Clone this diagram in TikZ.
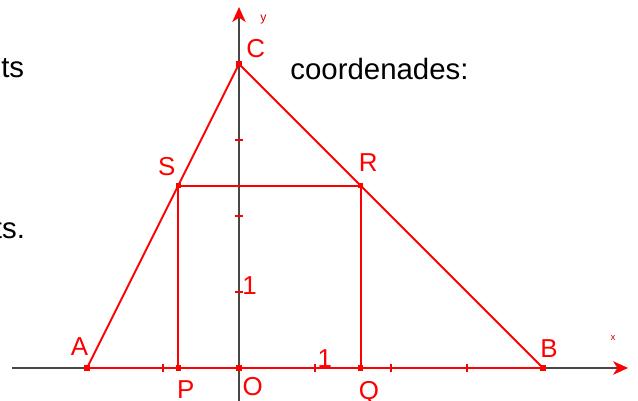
\documentclass[tikz,border=0pt]{standalone}
\usepackage{fontspec}
\setmainfont{Liberation Sans}
\usetikzlibrary{arrows.meta}

\begin{document}
\begin{tikzpicture}[
    font=\fontsize{9.7}{11}\selectfont,
    axisline/.style={draw=black!72, line width=0.75pt},
    redline/.style={draw=red, line width=0.7pt},
    axtick/.style={draw=red, line width=0.6pt},
    ptlabel/.style={text=red, inner sep=0pt},
    axlabel/.style={text=red!80!black, inner sep=0pt},
    bodytext/.style={text=black, inner sep=0pt, font=\fontsize{11}{13}\selectfont},
  ]
  % picture frame: 638 x 401 px, 1 unit = 76 px, origin at (239,368)
  \useasboundingbox (-3.145,-0.434) rectangle (5.25,4.842);

  % ------------------------------------------------------------------
  % clipped fragments of the surrounding text
  % ------------------------------------------------------------------
  \node[bodytext, anchor=base east] (txtA) at (-2.82,3.82) {ts};
  \node[bodytext, anchor=base east] (txtB) at (-2.81,1.71) {ts.};
  \node[bodytext, anchor=base west] (txtC) at (0.67,3.79) {coordenades:};

  % ------------------------------------------------------------------
  % axes with red tips, ticks every unit
  % ------------------------------------------------------------------
  \draw[axisline, -{Stealth[color=red, length=5.6pt, width=5pt, inset=1.6pt]}]
       (-2.99,0) -- (5.12,0);
  \draw[axisline, -{Stealth[color=red, length=5.6pt, width=5pt, inset=1.6pt]}]
       (0,-0.45) -- (0,4.75);
  \foreach \xx in {-1,1,2,3} {
    \draw[axtick] (\xx,-0.05) -- (\xx,0.05);
  }
  \foreach \yy in {1,2,3} {
    \draw[axtick] (-0.05,\yy) -- (0.05,\yy);
  }
  \node[axlabel, font=\fontsize{3.6}{4}\selectfont] (xlab) at (4.92,0.40) {x};
  \node[axlabel, font=\fontsize{4.6}{5}\selectfont] (ylab) at (0.32,4.58) {y};
  \node[ptlabel] (onex) at (1.13,0.13) {1};
  \node[ptlabel] (oney) at (0.14,1.08) {1};

  % ------------------------------------------------------------------
  % triangle ABC and inscribed square PQRS
  % ------------------------------------------------------------------
  \coordinate (O) at (0,0);
  \coordinate (A) at (-2,0);
  \coordinate (B) at (4,0);
  \coordinate (C) at (0,4);
  \coordinate (P) at (-0.8,0);
  \coordinate (Q) at (1.6,0);
  \coordinate (R) at (1.6,2.4);
  \coordinate (S) at (-0.8,2.4);

  \draw[redline] (A) -- (B);
  \draw[redline] (A) -- (C) -- (B);
  \draw[redline] (P) -- (S) -- (R) -- (Q);

  \foreach \p in {O,A,B,C,P,Q,R,S} {
    \fill[red] (\p) +(-0.95pt,-0.95pt) rectangle +(0.95pt,0.95pt);
  }

  % point labels
  \node[ptlabel] (labC) at (0.22,4.20) {C};
  \node[ptlabel] (labS) at (-0.95,2.65) {S};
  \node[ptlabel] (labR) at (1.70,2.70) {R};
  \node[ptlabel] (labA) at (-2.10,0.28) {A};
  \node[ptlabel] (labB) at (4.08,0.25) {B};
  \node[ptlabel] (labP) at (-0.70,-0.29) {P};
  \node[ptlabel] (labO) at (0.18,-0.25) {O};
  \node[ptlabel] (labQ) at (1.71,-0.33) {Q};

\end{tikzpicture}
\end{document}
